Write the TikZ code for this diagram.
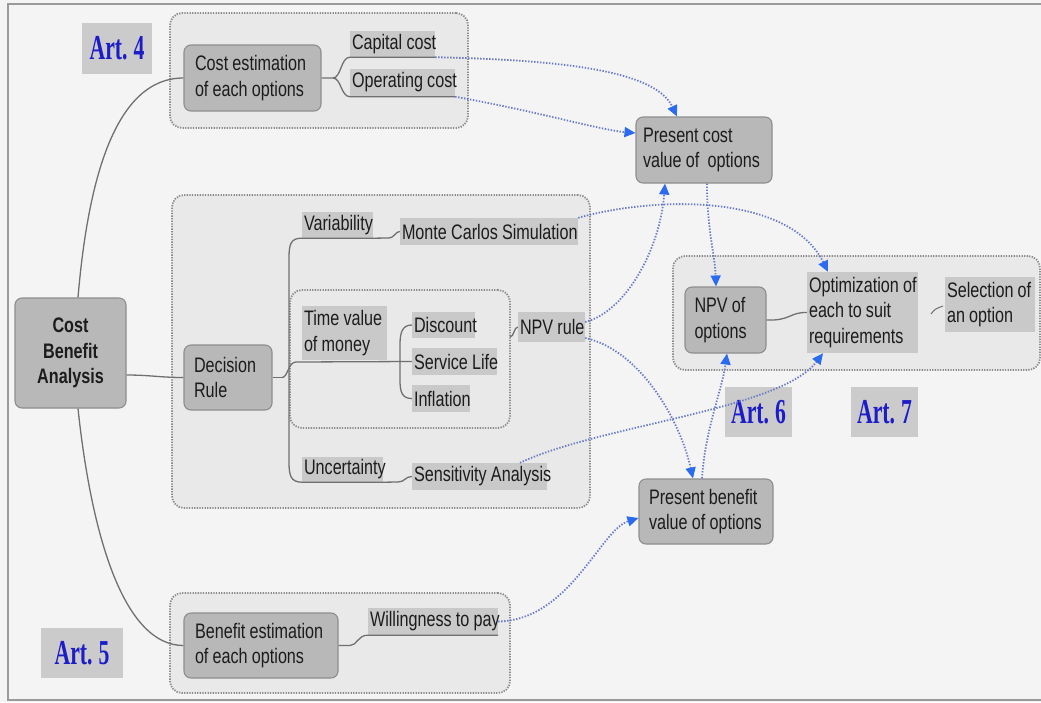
\documentclass[tikz,border=0pt]{standalone}
\usepackage{fontspec}
\setmainfont{Liberation Sans}[FakeStretch=0.77]
\newfontfamily\artfont{Liberation Serif}[FakeStretch=0.62]
\usetikzlibrary{arrows.meta}
\definecolor{bgc}{HTML}{F4F4F4}
\definecolor{grpfill}{HTML}{E9E9E9}
\definecolor{grpline}{HTML}{8C8C8C}
\definecolor{boxfill}{HTML}{B8B8B8}
\definecolor{boxline}{HTML}{8E8E8E}
\definecolor{lblfill}{HTML}{C9C9C9}
\definecolor{artfill}{HTML}{CBCBCB}
\definecolor{artblue}{HTML}{1C1CC8}
\definecolor{txt}{HTML}{1C1C1C}
\definecolor{treegray}{HTML}{707070}
\definecolor{dotblue}{HTML}{6A7CC8}
\definecolor{tipblue}{HTML}{2B6BEF}
\definecolor{framegray}{HTML}{9A9A9A}
\newcommand\cbsize{\fontsize{21}{25.5}\selectfont}
\begin{document}
\begin{tikzpicture}[x=1pt,y=-1pt,
  font=\cbsize, text=txt,
  every node/.append style={execute at begin node={\spaceskip=4.2pt plus 1pt minus 1pt\relax}},
  grp/.style={draw=grpline, line width=1.8pt, dash pattern=on 1.3pt off 1.3pt,
    fill=grpfill, rounded corners=12pt, inner sep=0pt},
  art/.style={fill=artfill, text=artblue, inner sep=0pt,
    font=\artfont\bfseries\fontsize{35}{35}\selectfont},
  bx/.style n args={3}{draw=boxline, line width=1.1pt, fill=boxfill,
    rounded corners=7pt, align=left, inner sep=0pt,
    minimum width=#1pt, minimum height=#2pt, text width=#3pt},
  lb/.style n args={3}{fill=lblfill, align=left, inner sep=0pt,
    minimum width=#1pt, minimum height=#2pt, text width=#3pt},
  tree/.style={draw=treegray, line width=1.3pt},
  barr/.style={draw=dotblue, line width=1.8pt, dash pattern=on 1.4pt off 1.6pt,
    -{Triangle[length=11pt,width=10pt,color=tipblue]}},
  framel/.style={draw=framegray, line width=1.5pt}]
\useasboundingbox (0,0) rectangle (1041,702);
\fill[bgc] (0,0) rectangle (1041,702);
\draw[framel] (1041,4) -- (8,4) -- (8,700) -- (1041,700);

% groups
\node[grp, minimum width=298pt, minimum height=115pt] (gtop) at (319,70.5) {};
\node[grp, minimum width=418pt, minimum height=313pt] (gdec) at (381,351.5) {};
\node[grp, minimum width=220pt, minimum height=138pt] (gtime) at (400,359) {};
\node[grp, minimum width=340pt, minimum height=100pt] (gben) at (340,643) {};
\node[grp, minimum width=367pt, minimum height=114pt] (gright) at (856.5,313) {};

% article labels
\node[art, minimum width=70pt, minimum height=51pt] (art4) at (117,48.5) {Art. 4};
\node[art, minimum width=82pt, minimum height=50pt] (art5) at (82,653) {Art. 5};
\node[art, minimum width=67pt, minimum height=50pt] (art6) at (758.5,412) {Art. 6};
\node[art, minimum width=67pt, minimum height=50pt] (art7) at (884.5,412) {Art. 7};

% main boxes
\node[bx={111}{110}{100}, align=center, font=\cbsize\bfseries] (cba) at (70.5,353) {Cost\\Benefit\\Analysis};
\node[bx={137}{66}{115}] (cost) at (252.5,78) {\mbox{Cost estimation}\\\mbox{of each options}};
\node[bx={88}{65}{68}] (dec) at (228,377.5) {Decision\\Rule};
\node[bx={154}{65}{132}] (ben) at (261,645.5) {\mbox{Benefit estimation}\\\mbox{of each options}};
\node[bx={136}{66}{122}] (pcost) at (704,150) {\mbox{Present cost}\\\mbox{value of~ options}};
\node[bx={134}{65}{114}] (pben) at (706,511.5) {\mbox{Present benefit}\\\mbox{value of options}};
\node[bx={81}{66}{62}] (npvo) at (725.5,320) {\mbox{NPV of}\\options};

% text labels
\node[lb={85}{26}{81}] (capital) at (392.5,44) {\mbox{Capital cost}};
\node[lb={105}{28}{101}] (operating) at (402.5,82.5) {\mbox{Operating cost}};
\node[lb={71}{26}{67}] (variability) at (337.5,225) {\mbox{Variability}};
\node[lb={178}{27}{174}] (monte) at (489,231.5) {\mbox{Monte Carlos Simulation}};
\node[lb={85}{54}{81}] (timeval) at (344.5,333) {\mbox{Time value}\\\mbox{of money}};
\node[lb={63}{26}{59}] (discount) at (443.5,325) {\mbox{Discount}};
\node[lb={85}{27}{81}] (service) at (454.5,361.5) {\mbox{Service Life}};
\node[lb={58}{27}{54}] (inflation) at (441,398.5) {\mbox{Inflation}};
\node[lb={67}{30}{63}] (npvrule) at (551.5,327) {\mbox{NPV rule}};
\node[lb={81}{25}{77}] (uncertainty) at (342.5,469.5) {\mbox{Uncertainty}};
\node[lb={135}{27}{131}] (sensitivity) at (479.5,476.5) {\mbox{Sensitivity Analysis}};
\node[lb={130}{27}{126}] (willing) at (433,621.5) {\mbox{Willingness to pay}};
\node[lb={111}{81}{107}] (optim) at (862.5,312.5) {\mbox{Optimization of}\\\mbox{each to suit}\\requirements};
\node[lb={90}{55}{86}] (selection) at (990,304.5) {\mbox{Selection of}\\\mbox{an option}};

% tree connectors
\draw[tree] ([xshift=7.5pt]cba.north) .. controls (88,180) and (115,78) .. (cost.west);
\draw[tree] ([xshift=7.5pt]cba.south) .. controls (92,540) and (125,645.5) .. (ben.west);
\draw[tree] ([yshift=-22pt]cba.east) .. controls (150,375) and (160,377.5) .. (dec.west);

\coordinate (cf) at (333,78);
\draw[tree] (cost.east) -- (cf) .. controls (341,78) and (341,57) .. (capital.south west) -- (capital.south east);
\draw[tree] (cf) .. controls (341,78) and (341,96.5) .. (operating.south west) -- (operating.south east);

\coordinate (dj) at (282,377.5);
\draw[tree] (dec.east) -- (dj);
\draw[tree] (variability.south east) -- (variability.south west) .. controls (291,238) and (289,244) .. (289,258)
  -- (289,462) .. controls (289,476) and (291,482) .. (uncertainty.south west) -- (uncertainty.south east);
\draw[tree] (dj) .. controls (288,377.5) and (288,362) .. (296,362) -- (service.west);
\draw[tree] (variability.south east) -- (388,238) .. controls (395,238) and (395,231.5) .. (monte.west);
\draw[tree] (uncertainty.south east) -- (398,482) .. controls (405,482) and (405,476.5) .. (sensitivity.west);
\draw[tree] (discount.west) .. controls (402,325) and (400,333) .. (400,345) -- (400,380)
  .. controls (400,392) and (402,398.5) .. (inflation.west);
\coordinate (tr) at (510,337);
\draw[tree] (tr) .. controls (514,337) and (514,327) .. (npvrule.west);
\draw[tree] (ben.east) -- (350,645.5) .. controls (357,645.5) and (358,635) .. (willing.south west) -- (willing.south east);
\draw[tree] (npvo.east) .. controls (790,321) and (790,312) .. (optim.west);
\coordinate (s1) at (931,314);
\coordinate (s2) at (943,306);
\draw[tree, line width=1pt] (s1) .. controls (935,309) .. (s2);

% blue dotted arrows
\draw[barr] (capital.south east) .. controls (560,60) and (655,70) .. ([xshift=-27pt]pcost.north);
\draw[barr] (operating.south east) .. controls (540,112) and (600,130) .. ([yshift=17pt]pcost.west);
\draw[barr] (monte.north east) .. controls (660,195) and (790,195) .. ([xshift=-34.5pt]optim.north);
\draw[barr] ([yshift=5pt]npvrule.east) .. controls (625,312) and (660,250) .. ([xshift=-39pt]pcost.south);
\draw[barr] ([xshift=3pt]pcost.south) .. controls (707,230) and (715,255) .. ([xshift=-9.5pt]npvo.north);
\draw[barr] ([yshift=-11pt]npvrule.east) .. controls (640,350) and (680,420) .. ([xshift=-13pt]pben.north);
\draw[barr] ([xshift=-4pt]pben.north) .. controls (705,430) and (722,390) .. ([xshift=1.5pt]npvo.south);
\draw[barr] ([xshift=40.5pt]sensitivity.north) .. controls (600,425) and (780,410) .. ([xshift=-39.5pt]optim.south);
\draw[barr] (willing.east) .. controls (570,620) and (600,530) .. ([yshift=-6.5pt]pben.west);
\end{tikzpicture}
\end{document}
